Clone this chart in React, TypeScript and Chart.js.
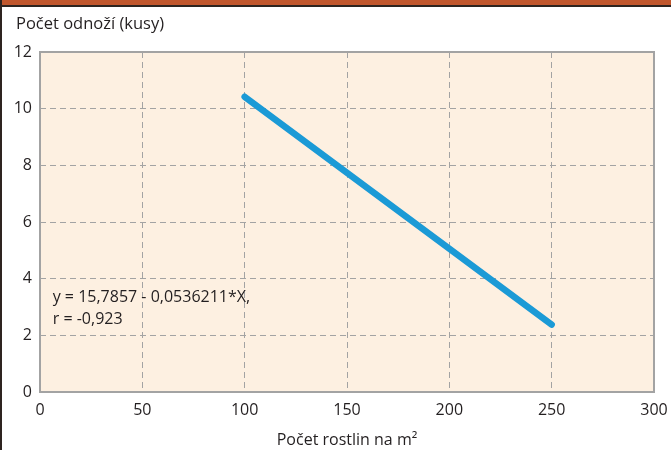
import React, { useEffect, useRef } from "react";
import { Chart, registerables } from "chart.js";

Chart.register(...registerables);

const xTicks = [0, 50, 100, 150, 200, 250, 300];
const yTicks = [0, 2, 4, 6, 8, 10, 12];
const lineX = [100, 250];
const lineY = [10.42, 2.38];
const yTitle = "Počet odnoží (kusy)";
const xTitle = "Počet rostlin na m²";
const eqLines = ["y = 15,7857 - 0,0536211*X,", "r = -0,923"];
const eqPos = { x: 6.2, y: 3.35 };

const FONT = "'Open Sans', 'Noto Sans', sans-serif";

export default function App() {
  const ref = useRef<HTMLCanvasElement | null>(null);
  useEffect(() => {
    const canvas = ref.current!;
    const deco = {
      id: "deco",
      beforeDraw(chart: any) {
        const { ctx, chartArea: a } = chart;
        ctx.save();
        ctx.fillStyle = "#fdf0e1";
        ctx.fillRect(a.left, a.top, a.right - a.left, a.bottom - a.top);
        ctx.restore();
      },
      afterDraw(chart: any) {
        const { ctx, chartArea: a, scales } = chart;
        ctx.save();
        ctx.strokeStyle = "#a3a3a3";
        ctx.lineWidth = 2;
        ctx.strokeRect(a.left, a.top, a.right - a.left, a.bottom - a.top);
        ctx.fillStyle = "#231f20";
        ctx.font = `16.5px ${FONT}`;
        ctx.textBaseline = "middle";
        ctx.textAlign = "left";
        ctx.fillText(yTitle, 16, 24);
        ctx.font = `16px ${FONT}`;
        const px = scales.x.getPixelForValue(eqPos.x);
        const py = scales.y.getPixelForValue(eqPos.y);
        eqLines.forEach((t, i) => ctx.fillText(t, px, py + i * 22));
        ctx.restore();
      },
    };
    const chart = new Chart(canvas, {
      type: "scatter",
      data: {
        datasets: [
          {
            data: lineX.map((x, i) => ({ x, y: lineY[i] })),
            showLine: true,
            borderColor: "#1b9ad6",
            backgroundColor: "#1b9ad6",
            borderWidth: 6.5,
            borderCapStyle: "round",
            pointRadius: 0,
          },
        ],
      },
      options: {
        animation: false,
        responsive: false,
        layout: { padding: { left: 0, right: 17, top: 52, bottom: 0 } },
        plugins: { legend: { display: false }, tooltip: { enabled: false } },
        scales: {
          x: {
            type: "linear",
            min: 0,
            max: 300,
            afterBuildTicks: (s: any) => {
              s.ticks = xTicks.map((v) => ({ value: v }));
            },
            afterFit: (s: any) => {
              s.height = 58;
              s.paddingRight = 0;
              s.paddingLeft = 0;
            },
            grid: {
              color: "#a3a3a3",
              lineWidth: 1,
              drawTicks: false,
            },
            border: { display: false, dash: [6, 4] },
            ticks: {
              color: "#231f20",
              padding: 9,
              maxRotation: 0,
              font: { family: FONT, size: 16 },
            },
            title: {
              display: true,
              text: xTitle,
              color: "#231f20",
              padding: { top: 3, bottom: 0 },
              font: { family: FONT, size: 16 },
            },
          },
          y: {
            type: "linear",
            min: 0,
            max: 12,
            afterBuildTicks: (s: any) => {
              s.ticks = yTicks.map((v) => ({ value: v }));
            },
            afterFit: (s: any) => {
              s.width = 40;
              s.paddingTop = 0;
              s.paddingBottom = 0;
            },
            grid: { color: "#a3a3a3", lineWidth: 1, drawTicks: false },
            border: { display: false, dash: [6, 4] },
            ticks: {
              color: "#231f20",
              padding: 8,
              font: { family: FONT, size: 16 },
            },
          },
        },
      } as any,
      plugins: [deco],
    });
    return () => chart.destroy();
  }, []);
  return (
    <div
      style={{
        position: "absolute",
        left: 0,
        top: 0,
        width: 671,
        height: 450,
        background: "#ffffff",
        overflow: "hidden",
      }}
    >
      <canvas ref={ref} width={671} height={450} style={{ display: "block" }} />
      <div style={{ position: "absolute", left: 0, top: 0, width: 671, height: 5, background: "#c1572d" }} />
      <div style={{ position: "absolute", left: 0, top: 5, width: 671, height: 2, background: "#2e2420" }} />
      <div style={{ position: "absolute", left: 0, top: 0, width: 2, height: 450, background: "#2e2420" }} />
    </div>
  );
}
